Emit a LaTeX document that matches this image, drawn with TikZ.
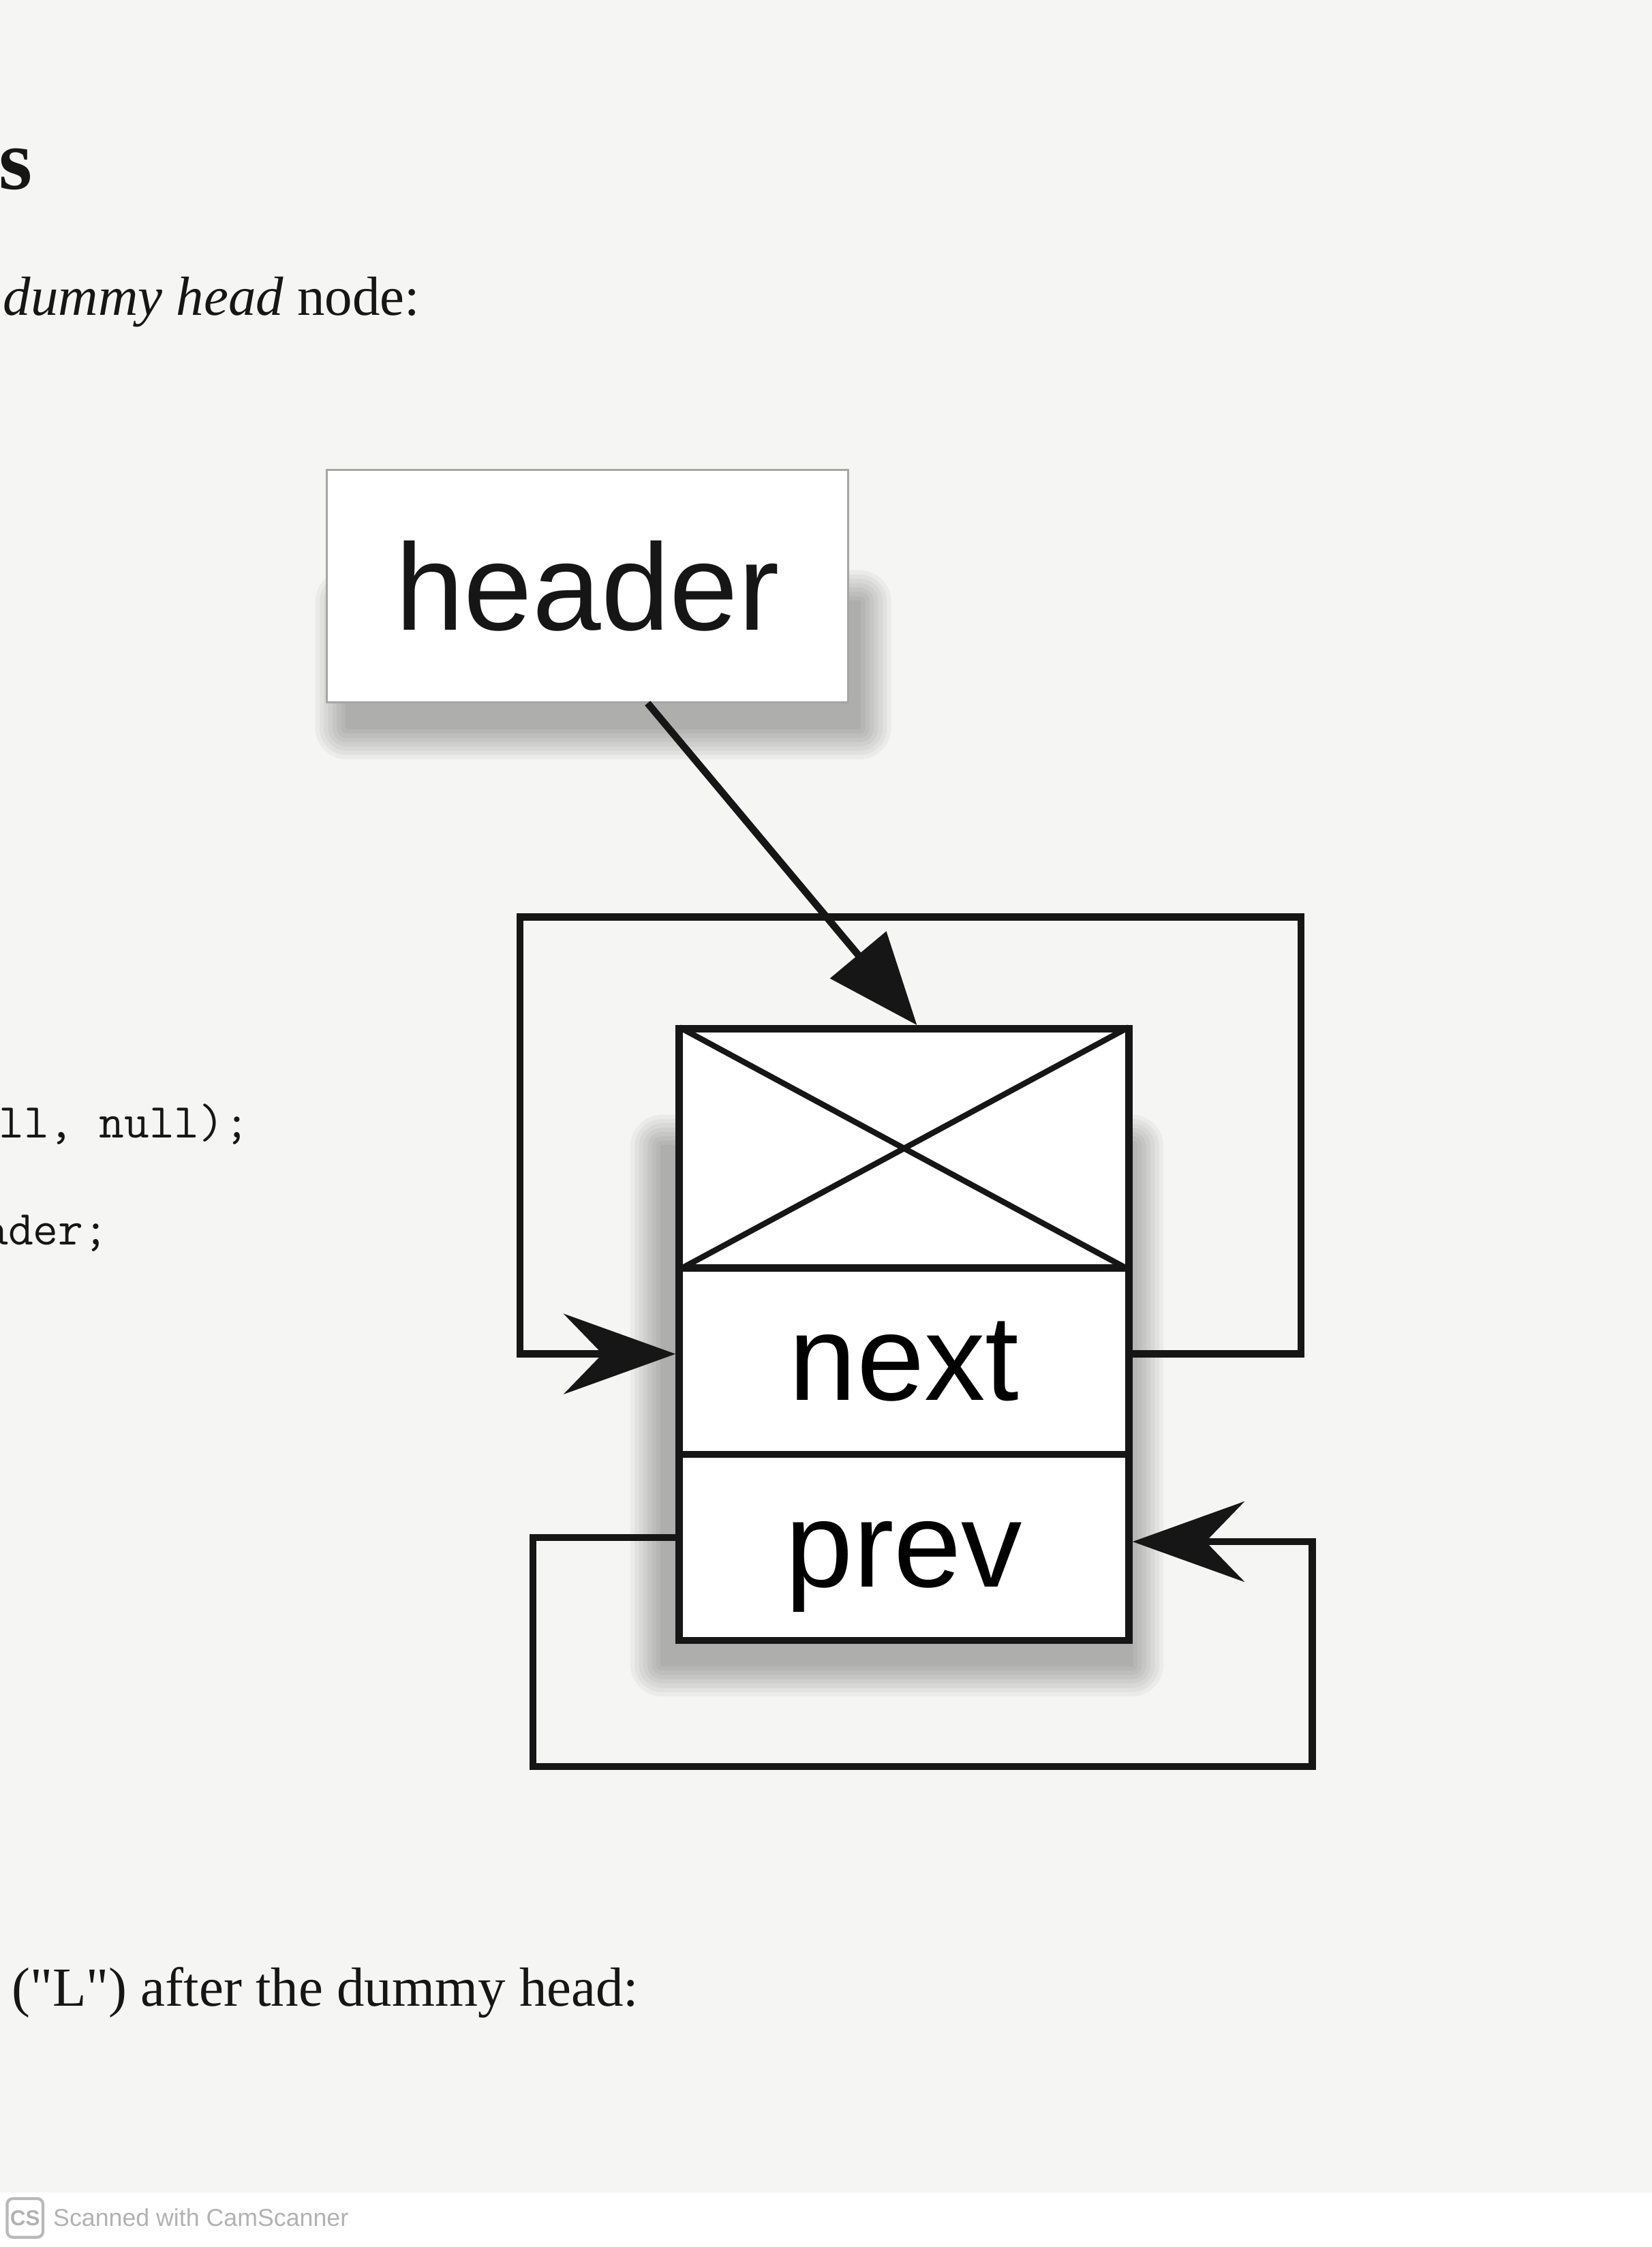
\documentclass[tikz,border=0pt]{standalone}
\usepackage{fontspec}
\setmainfont{Liberation Serif}
\newfontfamily\plainser{Liberation Serif}
\newfontfamily\helv{Liberation Sans}
\usetikzlibrary{arrows.meta}
\definecolor{paper}{RGB}{245,245,244}
\definecolor{ink}{RGB}{22,22,22}
\begin{document}
\begin{tikzpicture}[x=1pt,y=-1pt,
  cellbox/.style={draw=ink, line width=5pt, fill=white, minimum width=314pt, inner sep=0pt,
    font=\helv\fontsize{85}{85}\selectfont},
  linkline/.style={draw=ink, line width=5pt, line join=miter},
  loopend/.style={-{Stealth[length=78pt,width=56pt,inset=27pt]}},
  headend/.style={-{Triangle[length=64pt,width=50pt]}},
  crossline/.style={draw=ink, line width=4pt, shorten >=3pt, shorten <=3pt},
  prose/.style={anchor=base west, inner sep=0pt, font=\fontsize{38.5}{40}\selectfont, text=ink},
  code/.style={anchor=base west, inner sep=0pt, font=\ttfamily\fontsize{34}{34}\selectfont, text=ink},
  shade/.style={fill=black, opacity=0.04}
]
\useasboundingbox (0,0) rectangle (1153,1568.3);
\fill[paper] (0,0) rectangle (1153,1530);
\fill[white] (0,1530) rectangle (1153,1568.3);

% soft shadows
\foreach \e in {22,19,...,1} {
  \fill[shade, rounded corners=\e pt] ({242-\e},{420-\e}) rectangle ({600+\e},{508+\e});
  \fill[shade, rounded corners=\e pt] ({462-\e},{800-\e}) rectangle ({790+\e},{1162+\e});
}

% texts
\node[anchor=base west, inner sep=0pt, font=\bfseries\fontsize{60}{60}\selectfont, text=ink] (heads) at (-1,132) {s};
\node[prose] (intro) at (2,220) {\textit{dummy head} node:};
\node[code] (codeA) at (-1,794) {ll, null);};
\node[code] (codeB) at (-12,869) {ader;};
\node[prose, font=\plainser\fontsize{38.5}{40}\selectfont] (outro) at (8,1400) {("L") after the dummy head:};

% header box
\node[draw=gray!70, line width=1.5pt, fill=white, minimum width=364pt, minimum height=162pt,
  font=\helv\fontsize{86}{86}\selectfont, text=ink] (header) at (410,409) {header};

% list node
\node[cellbox, minimum height=167pt] (cellx) at (631,801.5) {};
\node[cellbox, minimum height=130pt] (cellnext) at (631,950) {next};
\node[cellbox, minimum height=130pt, text depth=0pt] (cellprev) at (631,1080) {\raisebox{-9pt}{prev}};
\draw[crossline] (cellx.north west) -- (cellx.south east);
\draw[crossline] (cellx.north east) -- (cellx.south west);

% connectors
\coordinate (ntr) at (908,640);
\coordinate (nl) at (363,640);
\coordinate (pbl) at (372,1233);
\coordinate (pbr) at (916,1233);
\draw[linkline, headend] ([xshift=42pt]header.south) -- ([xshift=9pt]cellx.north);
\draw[linkline, loopend] ([yshift=5pt]cellnext.east) -| (ntr) -- (nl) |- ([yshift=5pt]cellnext.west);
\draw[linkline, loopend] ([yshift=7pt]cellprev.west) -| (pbl) -- (pbr) |- ([yshift=4pt]cellprev.east);

% footer
\node[draw=gray!55, line width=2pt, rounded corners=4pt, minimum width=25pt, minimum height=27pt,
  inner sep=0pt, font=\helv\bfseries\fontsize{15}{15}\selectfont, text=gray!60] (cslogo) at (17.5,1548) {CS};
\node[anchor=base west, inner sep=0pt, font=\helv\fontsize{17}{17}\selectfont, text=gray!60] (cstext) at (37,1554) {Scanned with CamScanner};
\end{tikzpicture}
\end{document}
